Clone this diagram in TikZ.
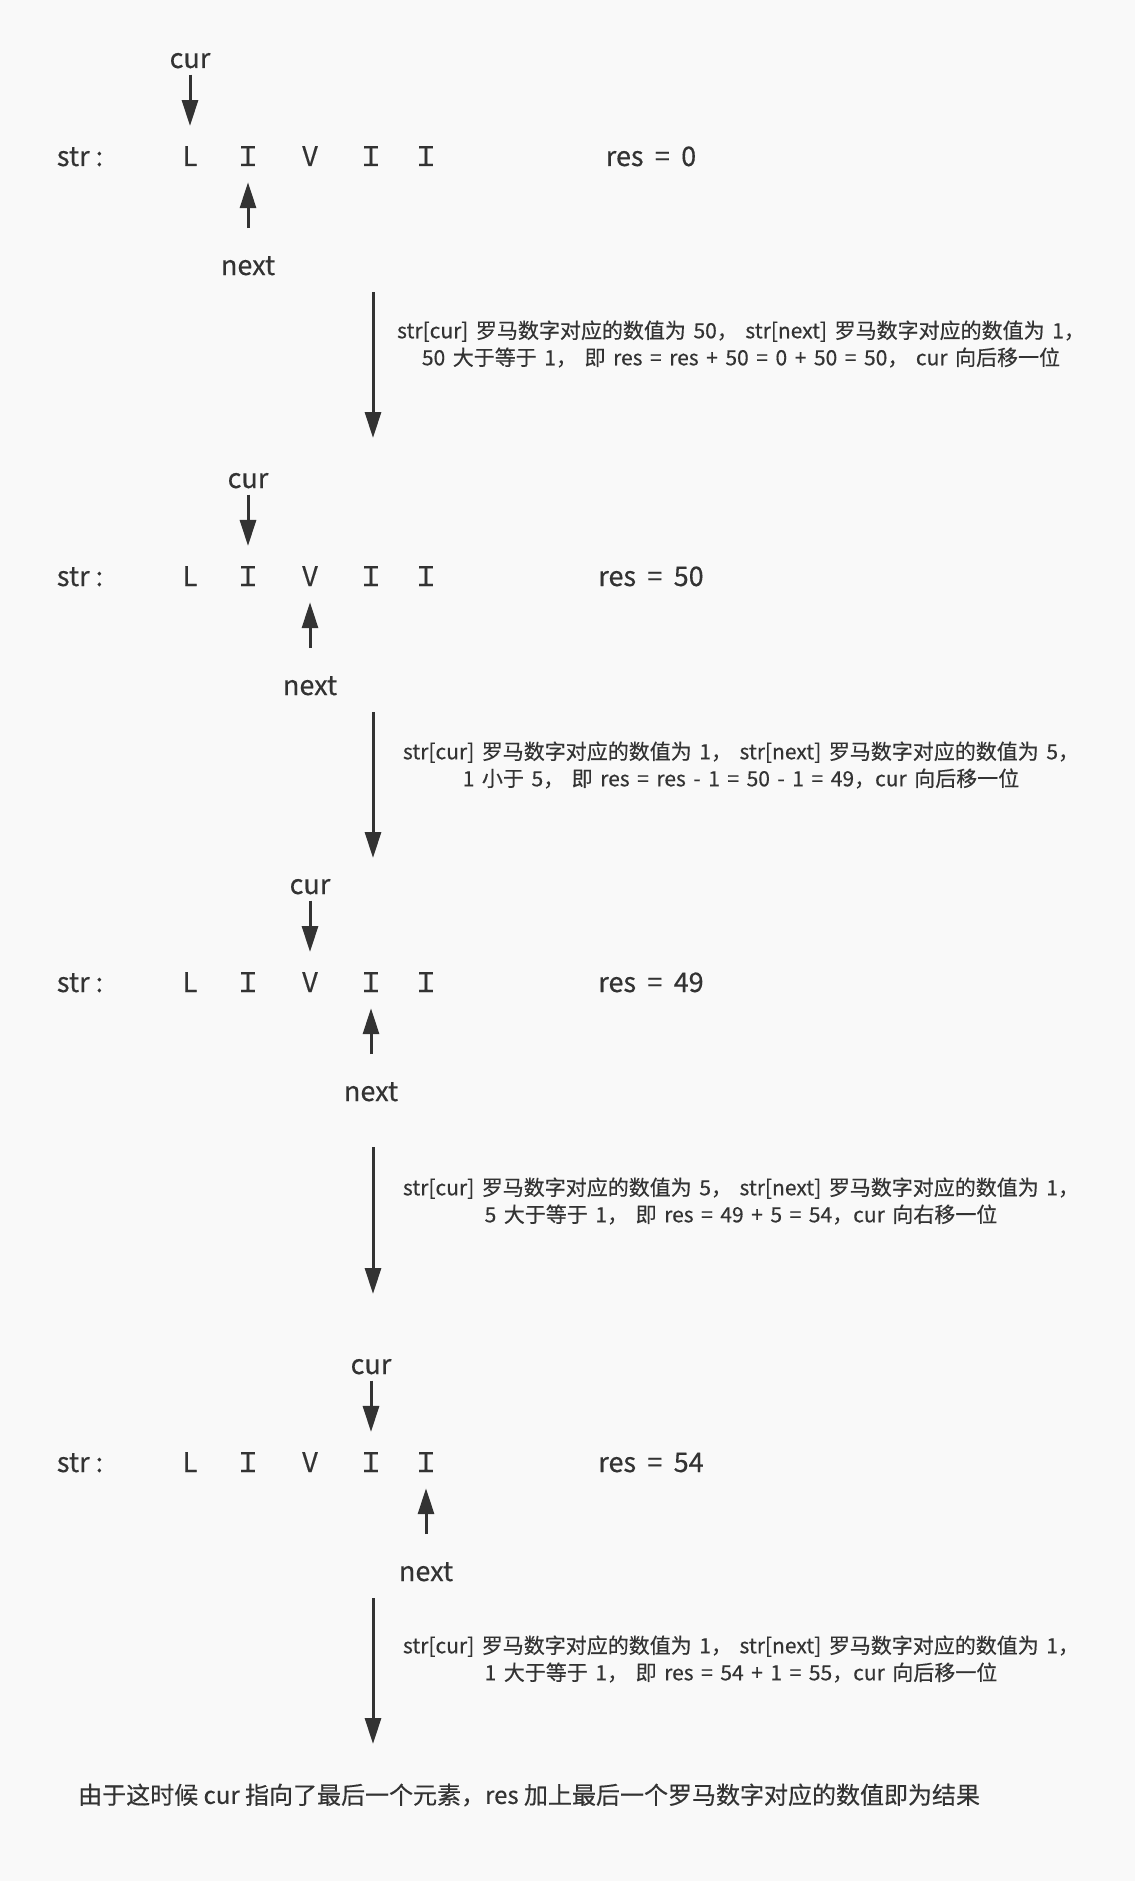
\documentclass[tikz,border=0pt]{standalone}
\usepackage{fontspec}
\setmainfont{Noto Sans CJK SC}[FakeBold=0.35]
\usetikzlibrary{arrows.meta}
\definecolor{ink}{HTML}{333333}
\definecolor{paper}{HTML}{F9F9F9}
\newcommand{\gap}{\hspace{0.42em}}
\newcommand{\notefont}{\fontsize{21}{27}\selectfont\spaceskip 0.36em\relax}
\tikzset{
  lbl/.style={font=\fontsize{27}{32}\selectfont, text=ink, inner sep=0pt, anchor=base},
  note/.style={font=\notefont, text=ink, align=center, inner sep=0pt},
  ptr/.style={draw=ink, line width=3pt, -{Triangle[length=26pt,width=16pt]}},
  stepline/.style={draw=ink, line width=3pt, -{Triangle[length=26pt,width=16pt]}},
}
\begin{document}
\begin{tikzpicture}[x=1pt,y=-1pt]
  \fill[paper] (0,0) rectangle (1135,1881);
  \useasboundingbox (0,0) rectangle (1135,1881);

  % one row: the string, the result, and the two pointers (y is the baseline)
  \foreach \r/\y/\c/\n/\res in {1/166/1/2/0, 2/586/2/3/50, 3/992/3/4/49, 4/1472/4/5/54} {
    \node[lbl] (str\r) at (80,\y) {str :};
    \foreach \i/\x/\ch in {1/190/L, 2/248/Ｉ, 3/310/V, 4/371/Ｉ, 5/426/Ｉ}
      \node[lbl] (c\r-\i) at (\x,\y) {\ch};
    \node[lbl] (res\r) at (651,\y) {res\gap=\gap\res};
    \node[lbl] (cur\r) at ([yshift=98pt]c\r-\c.base) {cur};
    \node[lbl] (next\r) at ([yshift=-109pt]c\r-\n.base) {next};
    \draw[ptr, shorten <=6pt, shorten >=20pt] (cur\r.south) -- (c\r-\c.north);
    \draw[ptr, shorten <=28pt, shorten >=16pt] (next\r.north) -- (c\r-\n.south);
  }

  % transitions between the rows
  \foreach \k/\ya/\yb in {1/292/438, 2/712/858, 3/1147/1294, 4/1598/1744} {
    \coordinate (t\k a) at (373,\ya);
    \coordinate (t\k b) at (373,\yb);
    \draw[stepline] (t\k a) -- (t\k b);
  }

  \node[note] (n1) at (741,344) {str[cur] 罗马数字对应的数值为 50， str[next] 罗马数字对应的数值为 1，\\50 大于等于 1， 即 res = res + 50 = 0 + 50 = 50， cur 向后移一位};
  \node[note] (n2) at (741,765) {str[cur] 罗马数字对应的数值为 1， str[next] 罗马数字对应的数值为 5，\\1 小于 5， 即 res = res - 1 = 50 - 1 = 49，cur 向后移一位};
  \node[note] (n3) at (741,1201) {str[cur] 罗马数字对应的数值为 5， str[next] 罗马数字对应的数值为 1，\\5 大于等于 1， 即 res = 49 + 5 = 54，cur 向右移一位};
  \node[note] (n4) at (741,1659) {str[cur] 罗马数字对应的数值为 1， str[next] 罗马数字对应的数值为 1，\\1 大于等于 1， 即 res = 54 + 1 = 55，cur 向后移一位};

  \node[font=\fontsize{24}{29}\selectfont, text=ink, inner sep=0pt, anchor=west] (final) at (78,1795)
    {由于这时候 cur 指向了最后一个元素，res 加上最后一个罗马数字对应的数值即为结果};
\end{tikzpicture}
\end{document}
